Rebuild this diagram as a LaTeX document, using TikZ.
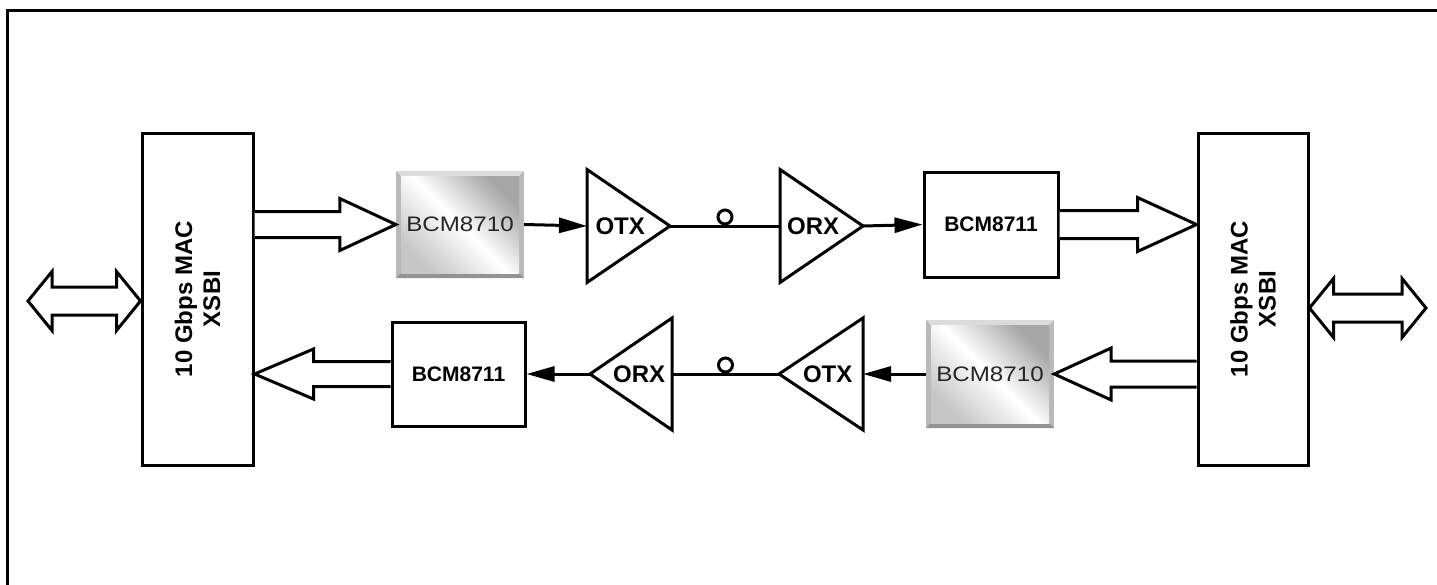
\documentclass[tikz,border=0pt]{standalone}
\usepackage{fontspec}
\setmainfont{Liberation Sans}
\newfontfamily\chipfont[FakeStretch=1.15]{Liberation Sans}
\usetikzlibrary{calc,positioning,arrows.meta}

% hollow (outline) arrow: start, tip, shaft half width, head half width, signed head length
\newcommand{\hollowarrow}[5]{%
  \draw[fat] ($(#1)+(0,-#3)$) -- ($(#2)+(#5,-#3)$) -- ($(#2)+(#5,-#4)$) -- (#2)
    -- ($(#2)+(#5,#4)$) -- ($(#2)+(#5,#3)$) -- ($(#1)+(0,#3)$);}
% hollow double arrow between left point and right point
\newcommand{\dblarrow}[2]{%
  \draw[fat] (#1) -- ($(#1)+(24,-29.5)$) -- ($(#1)+(24,-14)$) -- ($(#2)+(-24,-14)$)
    -- ($(#2)+(-24,-29.5)$) -- (#2) -- ($(#2)+(-24,29.5)$) -- ($(#2)+(-24,14)$)
    -- ($(#1)+(24,14)$) -- ($(#1)+(24,29.5)$) -- cycle;}

\tikzset{
  box/.style={draw, line width=3pt, fill=white, inner sep=0pt,
    font=\bfseries\fontsize{21}{24}\selectfont},
  mac/.style={box, minimum width=111pt, minimum height=332pt},
  maclabel/.style={rotate=90, align=center, font=\bfseries\fontsize{24}{28}\selectfont},
  chip/.style={minimum width=128pt, minimum height=107pt, inner sep=0pt,
    font=\chipfont\fontsize{21}{24}\selectfont, text=black!85,
    path picture={
      \path (path picture bounding box.north west) coordinate (c1)
            (path picture bounding box.north east) coordinate (c2)
            (path picture bounding box.south east) coordinate (c3)
            (path picture bounding box.south west) coordinate (c4);
      \fill[gray!55] (c1) rectangle (c3);
      \fill[gray!28] (c1) -- (c2) -- ($(c2)+(-5,5)$) -- ($(c1)+(5,5)$) -- cycle;
      \fill[gray!85] (c4) -- (c3) -- ($(c3)+(-5,-5)$) -- ($(c4)+(5,-5)$) -- cycle;
      \shade[top color=gray!70, bottom color=gray!45, middle color=white, shading angle=-45]
        ($(c1)+(5,5)$) rectangle ($(c3)+(-5,-5)$);
    }},
  fat/.style={draw, line width=3pt, fill=white, line join=miter},
  amp/.style={draw, line width=3pt, line join=miter},
  amplabel/.style={font=\bfseries\fontsize{24}{28}\selectfont},
  wire/.style={line width=3pt},
  sig/.style={line width=3pt, -{Triangle[length=28pt,width=15pt]}}
}

\begin{document}
\begin{tikzpicture}[x=1pt,y=-1pt]
\useasboundingbox (0,0) rectangle (1437,584);

% frame
\draw[line width=3.5pt] (7.5,600) -- (7.5,10.5) -- (1437,10.5);

% MAC blocks
\node[mac] (macL) at (197.5,299) {};
\node[maclabel] (macLtxt) at (macL) {10 Gbps MAC\\XSBI};
\node[mac, minimum width=110pt] (macR) at (1253,299) {};
\node[maclabel] (macRtxt) at (macR) {10 Gbps MAC\\XSBI};

% chips
\node[chip] (txA) at (460,224.5) {BCM8710};
\node[box, minimum width=134pt, minimum height=105pt] (rxA) at (991,224.5) {BCM8711};
\node[chip, minimum height=108pt] (txB) at (990,374) {BCM8710};
\node[box, minimum width=133pt, minimum height=104pt] (rxB) at (458.5,374) {BCM8711};

% optics, top row
\coordinate (otxA) at (587,226);
\coordinate (otxAtip) at (670,226);
\coordinate (orxA) at (780,226);
\coordinate (orxAtip) at (863,226);
\draw[amp] ($(otxA)+(0,-56.5)$) -- (otxAtip) -- ($(otxA)+(0,56.5)$) -- cycle;
\draw[amp] ($(orxA)+(0,-56.5)$) -- (orxAtip) -- ($(orxA)+(0,56.5)$) -- cycle;
\node[amplabel] (otxAtxt) at ($(otxA)!0.4!(otxAtip)$) {OTX};
\node[amplabel] (orxAtxt) at ($(orxA)!0.4!(orxAtip)$) {ORX};

% optics, bottom row
\coordinate (otxB) at (863,374);
\coordinate (otxBtip) at (779,374);
\coordinate (orxB) at (672,374);
\coordinate (orxBtip) at (590,374);
\draw[amp] ($(otxB)+(0,-56)$) -- (otxBtip) -- ($(otxB)+(0,56)$) -- cycle;
\draw[amp] ($(orxB)+(0,-56)$) -- (orxBtip) -- ($(orxB)+(0,56)$) -- cycle;
\node[amplabel] (otxBtxt) at ($(otxB)!0.42!(otxBtip)$) {OTX};
\node[amplabel] (orxBtxt) at ($(orxB)!0.4!(orxBtip)$) {ORX};

% fibre links
\draw[wire] (otxAtip) -- (orxA);
\draw[wire] ($(otxAtip)!0.5!(orxA)+(0,-9)$) circle[radius=7pt];
\draw[wire] (otxBtip) -- (orxB);
\draw[wire] ($(otxBtip)!0.5!(orxB)+(0,-9)$) circle[radius=7pt];

% serial signals
\draw[sig] (txA.east) -- (otxA);
\draw[sig] (orxAtip) -- (rxA.west);
\draw[sig] (txB.west) -- (otxB);
\draw[sig] (orxBtip) -- (rxB.east);

% XSBI buses
\hollowarrow{macL.east |- txA.west}{txA.west}{13}{26}{-56}
\hollowarrow{rxA.east}{macR.west |- rxA.east}{14}{27}{-59}
\hollowarrow{macR.west |- txB.east}{txB.east}{13}{26}{57}
\hollowarrow{rxB.west}{macL.east |- rxB.west}{12.5}{25}{59}

% system side
\coordinate (ioL) at (28,301);
\coordinate (ioR) at (1426,308);
\dblarrow{ioL}{macL.west |- ioL}
\dblarrow{macR.east |- ioR}{ioR}

\end{tikzpicture}
\end{document}
